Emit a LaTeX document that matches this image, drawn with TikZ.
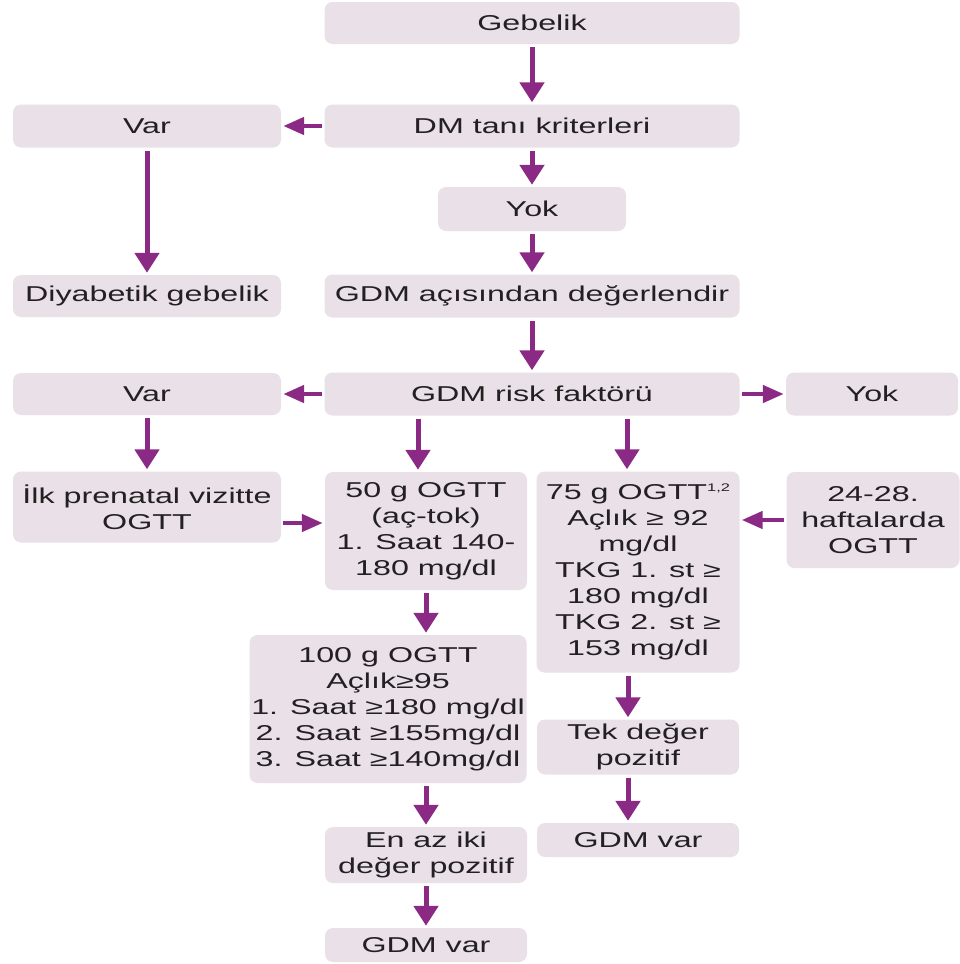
\documentclass[tikz,border=0pt]{standalone}
\usepackage{fontspec}
\setmainfont{Liberation Sans}[FakeStretch=1.5]
\usepackage{tikz}
\usetikzlibrary{arrows.meta}
\definecolor{boxfill}{RGB}{233,225,231}
\definecolor{arrowpurple}{RGB}{139,42,133}
\definecolor{textgray}{RGB}{35,32,34}

\begin{document}
\begin{tikzpicture}[x=1pt,y=-1pt,
  box/.style={fill=boxfill, rounded corners=8pt, text=textgray, align=center, inner sep=1pt, font=\fontsize{21.5}{26}\selectfont},
  varr/.style={draw=arrowpurple, line width=5pt, -{Triangle[width=24pt,length=20pt]}, shorten <=3pt, shorten >=2pt},
  harr/.style={draw=arrowpurple, line width=4.5pt, -{Triangle[width=17pt,length=21pt]}, shorten <=2pt, shorten >=2pt}]
\useasboundingbox (0,0) rectangle (960,964);
\node[box, minimum width=415pt, minimum height=42pt] (Gebelik) at (532,23) {Gebelik};
\node[box, minimum width=415pt, minimum height=43pt] (Dm) at (532,126) {DM tanı kriterleri};
\node[box, minimum width=268pt, minimum height=43pt] (VarA) at (147,126) {Var};
\node[box, minimum width=188pt, minimum height=44pt] (YokA) at (532,209) {Yok};
\node[box, minimum width=268pt, minimum height=42pt] (Diyabetik) at (147,296) {Diyabetik gebelik};
\node[box, minimum width=415pt, minimum height=43pt] (Degerlendir) at (532,296) {GDM açısından değerlendir};
\node[box, minimum width=268pt, minimum height=42pt] (VarB) at (147,394) {Var};
\node[box, minimum width=415pt, minimum height=43pt] (Risk) at (532,394) {GDM risk faktörü};
\node[box, minimum width=172pt, minimum height=43pt] (YokB) at (872,394) {Yok};
\node[box, minimum width=268pt, minimum height=71pt] (Ilk) at (147,507) {İlk prenatal vizitte\\OGTT};
\node[box, minimum width=202pt, minimum height=118pt] (OgttElli) at (426,531) {50 g OGTT\\(aç-tok)\\1. Saat 140-\\180 mg/dl};
\node[box, minimum width=203pt, minimum height=201pt] (OgttYetmis) at (638,572) {75 g OGTT\raisebox{8pt}{\fontsize{11}{11}\selectfont 1,2}\\Açlık ≥ 92\\mg/dl\\TKG 1. st ≥\\180 mg/dl\\TKG 2. st ≥\\153 mg/dl};
\node[box, minimum width=173pt, minimum height=96pt] (Hafta) at (873,520) {24-28.\\haftalarda\\OGTT};
\node[box, minimum width=277pt, minimum height=148pt] (OgttYuz) at (388,709) {100 g OGTT\\Açlık≥95\\1. Saat ≥180 mg/dl\\2. Saat ≥155mg/dl\\3. Saat ≥140mg/dl};
\node[box, minimum width=202pt, minimum height=55pt] (Tek) at (638,747) {Tek değer\\pozitif};
\node[box, minimum width=202pt, minimum height=34pt] (GdmSag) at (638,840) {GDM var};
\node[box, minimum width=202pt, minimum height=56pt] (EnAz) at (426,855) {En az iki\\değer pozitif};
\node[box, minimum width=202pt, minimum height=34pt] (GdmSol) at (426,945) {GDM var};
\coordinate (ElliIn) at ([xshift=-8pt]OgttElli.north);
\coordinate (YetmisIn) at ([xshift=-11pt]OgttYetmis.north);
\coordinate (YetmisOut) at ([xshift=-10pt]OgttYetmis.south);
\coordinate (ElliOut) at (OgttElli.south);
\coordinate (IlkOut) at ([yshift=-16pt]Ilk.east);
\draw[varr] (Gebelik) -- (Dm);
\draw[harr] (Dm) -- (VarA);
\draw[varr] (Dm) -- (YokA);
\draw[varr] (VarA) -- (Diyabetik);
\draw[varr] (YokA) -- (Degerlendir);
\draw[varr] (Degerlendir) -- (Risk);
\draw[harr] (Risk) -- (VarB);
\draw[harr] (Risk) -- (YokB);
\draw[varr] (VarB) -- (Ilk);
\draw[varr] (ElliIn |- Risk.south) -- (ElliIn);
\draw[varr] (YetmisIn |- Risk.south) -- (YetmisIn);
\draw[harr] (IlkOut) -- (IlkOut -| OgttElli.west);
\draw[harr] (Hafta.west) -- (Hafta.west -| OgttYetmis.east);
\draw[varr] (ElliOut) -- (ElliOut |- OgttYuz.north);
\draw[varr] (ElliOut |- OgttYuz.south) -- (EnAz);
\draw[varr] (EnAz) -- (GdmSol);
\draw[varr] (YetmisOut) -- (YetmisOut |- Tek.north);
\draw[varr] (YetmisOut |- Tek.south) -- (YetmisOut |- GdmSag.north);
\end{tikzpicture}
\end{document}
